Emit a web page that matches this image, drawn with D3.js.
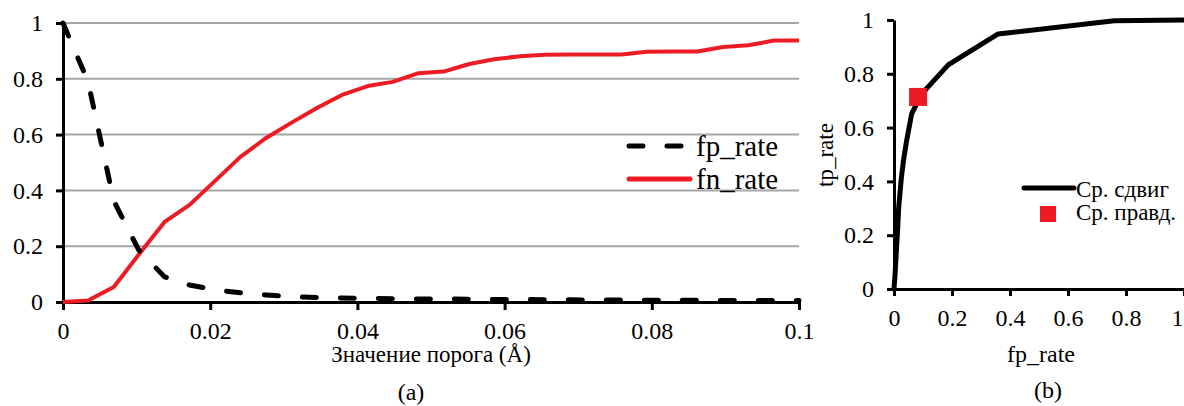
<!DOCTYPE html>
<html>
<head>
<meta charset="utf-8">
<script src="https://cdn.jsdelivr.net/npm/d3@7"></script>
<style>
  body { margin: 0; background: #fff; }
  svg text { font-family: "Liberation Serif", "Times New Roman", "DejaVu Serif", serif !important; fill: #000; }
</style>
</head>
<body>
<script>
const width = 1184;
const height = 406;

// panel (a): threshold vs. rates
const thresholds = [0, 0.0034, 0.0069, 0.0103, 0.0138, 0.0172, 0.0207, 0.0241, 0.0276, 0.031,
  0.0345, 0.0379, 0.0414, 0.0448, 0.0483, 0.0517, 0.0552, 0.0586, 0.0621, 0.0655,
  0.069, 0.0724, 0.0759, 0.0793, 0.0828, 0.0862, 0.0897, 0.0931, 0.0966, 0.1];
const fpRate = [1.0, 0.79, 0.362, 0.186, 0.09, 0.061, 0.043, 0.033, 0.025, 0.019,
  0.016, 0.014, 0.013, 0.012, 0.011, 0.011, 0.010, 0.009, 0.009, 0.008,
  0.008, 0.007, 0.007, 0.006, 0.006, 0.006, 0.005, 0.005, 0.005, 0.005];
const fnRate = [0, 0.005, 0.054, 0.17, 0.287, 0.348, 0.435, 0.52, 0.588, 0.642,
  0.695, 0.742, 0.774, 0.789, 0.82, 0.826, 0.853, 0.87, 0.881, 0.886,
  0.887, 0.887, 0.887, 0.897, 0.898, 0.898, 0.914, 0.92, 0.937, 0.937];
const xTicksA = [0, 0.02, 0.04, 0.06, 0.08, 0.1];
const xTickLabelsA = ['0', '0.02', '0.04', '0.06', '0.08', '0.1'];
const yTicks = [0, 0.2, 0.4, 0.6, 0.8, 1];
const yTickLabels = ['0', '0.2', '0.4', '0.6', '0.8', '1'];

// panel (b): ROC curve
const rocFp = [0, 0.004, 0.006, 0.008, 0.010, 0.012, 0.016, 0.025, 0.033, 0.044, 0.061, 0.09, 0.113, 0.187, 0.359, 0.76, 1.0];
const rocTp = [0, 0.06, 0.1, 0.14, 0.18, 0.21, 0.3, 0.41, 0.48, 0.554, 0.652, 0.713, 0.746, 0.833, 0.948, 0.997, 1.0];
const avgTrueFp = [0.083];
const avgTrueTp = [0.714];
const xTicksB = [0, 0.2, 0.4, 0.6, 0.8, 1];
const xTickLabelsB = ['0', '0.2', '0.4', '0.6', '0.8', '1'];

const red = '#ed1c24';

const svg = d3.select('body').append('svg')
  .attr('width', width)
  .attr('height', height);

function styleAxis (g) {
  g.select('.domain').attr('stroke', '#000').attr('stroke-width', 3);
  g.selectAll('.tick line').attr('stroke', '#000').attr('stroke-width', 3);
  g.selectAll('.tick text').attr('font-size', 24);
}

// ---------- panel (a) ----------
const xa = d3.scaleLinear().domain([0, 0.1]).range([63, 799]);
const ya = d3.scaleLinear().domain([0, 1]).range([302, 23]);

svg.append('g')
  .selectAll('line')
  .data(yTicks.slice(1))
  .join('line')
    .attr('x1', xa(0)).attr('x2', xa(0.1))
    .attr('y1', (d) => ya(d)).attr('y2', (d) => ya(d))
    .attr('stroke', '#a6a6a6')
    .attr('stroke-width', 2);

svg.append('g')
  .attr('transform', `translate(0,${ya(0)})`)
  .call(d3.axisBottom(xa).tickValues(xTicksA).tickSize(8).tickSizeOuter(0).tickPadding(12)
    .tickFormat((d, i) => xTickLabelsA[i]))
  .call(styleAxis);

svg.append('g')
  .attr('transform', `translate(${xa(0)},0)`)
  .call(d3.axisLeft(ya).tickValues(yTicks).tickSize(7).tickSizeOuter(0).tickPadding(13)
    .tickFormat((d, i) => yTickLabels[i]))
  .call(styleAxis);

const lineA = (vals) => d3.line()
  .x((d, i) => xa(thresholds[i]))
  .y((d) => ya(d))(vals);

svg.append('path')
  .attr('d', lineA(fnRate))
  .attr('fill', 'none')
  .attr('stroke', red)
  .attr('stroke-width', 4)
  .attr('stroke-linejoin', 'round');

svg.append('path')
  .attr('d', lineA(fpRate))
  .attr('fill', 'none')
  .attr('stroke', '#000')
  .attr('stroke-width', 5)
  .attr('stroke-linecap', 'round')
  .attr('stroke-dasharray', '14,24');

// legend (a)
const legA = svg.append('g');
legA.append('line')
  .attr('x1', 629).attr('x2', 684).attr('y1', 146).attr('y2', 146)
  .attr('stroke', '#000').attr('stroke-width', 5)
  .attr('stroke-linecap', 'round').attr('stroke-dasharray', '14,24');
legA.append('line')
  .attr('x1', 629).attr('x2', 690).attr('y1', 179).attr('y2', 179)
  .attr('stroke', red).attr('stroke-width', 5).attr('stroke-linecap', 'round');
legA.append('text').attr('x', 696).attr('y', 156).attr('font-size', 29).text('fp_rate');
legA.append('text').attr('x', 696).attr('y', 189).attr('font-size', 29).text('fn_rate');

svg.append('text')
  .attr('x', 431).attr('y', 362)
  .attr('text-anchor', 'middle').attr('font-size', 23)
  .text('Значение порога (Å)');
svg.append('text')
  .attr('x', 411).attr('y', 400)
  .attr('text-anchor', 'middle').attr('font-size', 24)
  .text('(a)');

// ---------- panel (b) ----------
const xb = d3.scaleLinear().domain([0, 1]).range([894, 1184]);
const yb = d3.scaleLinear().domain([0, 1]).range([289, 20]);

const xAxisB = svg.append('g')
  .attr('transform', `translate(0,${yb(0)})`)
  .call(d3.axisBottom(xb).tickValues(xTicksB).tickSize(7).tickSizeOuter(0).tickPadding(13)
    .tickFormat((d, i) => xTickLabelsB[i]))
  .call(styleAxis);
// last label sits on the window edge; keep it inside
xAxisB.selectAll('.tick text').filter((d) => d === 1).attr('text-anchor', 'end').attr('dx', -1);

svg.append('g')
  .attr('transform', `translate(${xb(0)},0)`)
  .call(d3.axisLeft(yb).tickValues(yTicks).tickSize(7).tickSizeOuter(0).tickPadding(13)
    .tickFormat((d, i) => yTickLabels[i]))
  .call(styleAxis);

svg.append('path')
  .attr('d', d3.line().x((d, i) => xb(rocFp[i])).y((d) => yb(d))(rocTp))
  .attr('fill', 'none')
  .attr('stroke', '#000')
  .attr('stroke-width', 5)
  .attr('stroke-linejoin', 'round');

svg.append('g')
  .selectAll('rect')
  .data(avgTrueFp)
  .join('rect')
    .attr('x', (d) => xb(d) - 9)
    .attr('y', (d, i) => yb(avgTrueTp[i]) - 9)
    .attr('width', 18).attr('height', 18)
    .attr('fill', red);

// legend (b)
const legB = svg.append('g');
legB.append('line')
  .attr('x1', 1024).attr('x2', 1074).attr('y1', 188).attr('y2', 188)
  .attr('stroke', '#000').attr('stroke-width', 5).attr('stroke-linecap', 'round');
legB.append('rect')
  .attr('x', 1040).attr('y', 206).attr('width', 16).attr('height', 16)
  .attr('fill', red);
legB.append('text').attr('x', 1076).attr('y', 197).attr('font-size', 23).text('Ср. сдвиг');
legB.append('text').attr('x', 1076).attr('y', 220).attr('font-size', 23).text('Ср. правд.');

svg.append('text')
  .attr('x', 825).attr('y', 155)
  .attr('transform', 'rotate(-90,825,155)')
  .attr('text-anchor', 'middle').attr('dominant-baseline', 'central')
  .attr('font-size', 23)
  .text('tp_rate');
svg.append('text')
  .attr('x', 1041).attr('y', 362)
  .attr('text-anchor', 'middle').attr('font-size', 24)
  .text('fp_rate');
svg.append('text')
  .attr('x', 1048).attr('y', 398)
  .attr('text-anchor', 'middle').attr('font-size', 24)
  .text('(b)');
</script>
</body>
</html>
